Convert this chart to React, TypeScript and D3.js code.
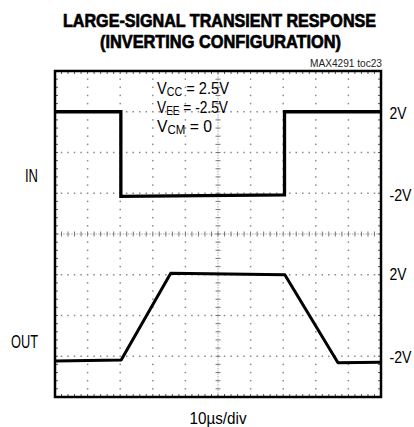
import React from "react";
import * as d3 from "d3";

const TITLE_LINES = ["LARGE-SIGNAL TRANSIENT RESPONSE", "(INVERTING CONFIGURATION)"];
const NOTE = "MAX4291 toc23";
const X_DIVS = 10;
const Y_DIVS = 8;
const TIME_MAX = 100; // µs (10µs/div)
const VOLTS_PER_DIV = 2;
const IN_CENTER_DIV = 6;
const OUT_CENTER_DIV = 2;

const inTime = [0, 20.2, 20.2, 70.4, 70.4, 100];
const inVolts = [2.0, 2.0, -2.15, -2.08, 2.0, 2.0];
const outTime = [0, 20.3, 35.5, 70.5, 86.8, 100];
const outVolts = [-2.23, -2.18, 2.07, 2.0, -2.32, -2.3];

const levelTicks = [2, -2];
const levelLabels = ["2V", "-2V"];
const channelNames = ["IN", "OUT"];
const conditions = [
  { main: "V", sub: "CC", rest: " = 2.5V", width: 72 },
  { main: "V", sub: "EE", rest: " = -2.5V", width: 71 },
  { main: "V", sub: "CM", rest: " = 0", width: 55 },
];
const X_LABEL = "10µs/div";

const FONT = "'Liberation Sans Narrow', 'Arial Narrow', 'Liberation Sans', Arial, sans-serif";
const TITLE_SX = 0.78;

export default function App() {
  const W = 414, H = 427;
  const left = 55, right = 381, top = 71, bottom = 397;
  const x = d3.scaleLinear().domain([0, TIME_MAX]).range([left, right]);
  const xd = d3.scaleLinear().domain([0, X_DIVS]).range([left, right]);
  const yd = d3.scaleLinear().domain([0, Y_DIVS]).range([bottom, top]);
  const yIn = (v: number) => yd(IN_CENTER_DIV + v / VOLTS_PER_DIV);
  const yOut = (v: number) => yd(OUT_CENTER_DIV + v / VOLTS_PER_DIV);

  const inData = inTime.map((t, i) => [t, inVolts[i]] as [number, number]);
  const outData = outTime.map((t, i) => [t, outVolts[i]] as [number, number]);
  const lineIn = d3.line<[number, number]>().x(d => x(d[0])).y(d => yIn(d[1]));
  const lineOut = d3.line<[number, number]>().x(d => x(d[0])).y(d => yOut(d[1]));

  const dots: JSX.Element[] = [];
  const subX = d3.range(0, X_DIVS * 5 + 1).map(i => i / 5);
  const subY = d3.range(0, Y_DIVS * 5 + 1).map(i => i / 5);
  for (let gy = 1; gy < Y_DIVS; gy++) {
    if (gy === 4) continue;
    subX.forEach((sx, i) => {
      if (i === 0 || i === subX.length - 1) return;
      dots.push(<rect key={`h${gy}-${i}`} x={xd(sx) - 0.75} y={yd(gy) - 0.75} width={1.5} height={1.5} fill="#8a8a8a" />);
    });
  }
  for (let gx = 1; gx < X_DIVS; gx++) {
    if (gx === 5) continue;
    subY.forEach((sy, i) => {
      if (i === 0 || i === subY.length - 1) return;
      if (i % 5 === 0) return;
      dots.push(<rect key={`v${gx}-${i}`} x={xd(gx) - 0.75} y={yd(sy) - 0.75} width={1.5} height={1.5} fill="#8a8a8a" />);
    });
  }

  const ticks: JSX.Element[] = [];
  subX.forEach((sx, i) => {
    if (i === 0 || i === subX.length - 1) return;
    ticks.push(<line key={`cx${i}`} x1={xd(sx)} x2={xd(sx)} y1={yd(4) - 2.5} y2={yd(4) + 2.5} stroke="#777" strokeWidth={1} />);
    ticks.push(<line key={`bt${i}`} x1={xd(sx)} x2={xd(sx)} y1={top} y2={top + 3} stroke="#555" strokeWidth={1} />);
    ticks.push(<line key={`bb${i}`} x1={xd(sx)} x2={xd(sx)} y1={bottom} y2={bottom - 3} stroke="#555" strokeWidth={1} />);
  });
  subY.forEach((sy, i) => {
    if (i === 0 || i === subY.length - 1) return;
    ticks.push(<line key={`cy${i}`} x1={xd(5) - 2.5} x2={xd(5) + 2.5} y1={yd(sy)} y2={yd(sy)} stroke="#777" strokeWidth={1} />);
    ticks.push(<line key={`bl${i}`} x1={left} x2={left + 3} y1={yd(sy)} y2={yd(sy)} stroke="#555" strokeWidth={1} />);
    ticks.push(<line key={`br${i}`} x1={right} x2={right - 3} y1={yd(sy)} y2={yd(sy)} stroke="#555" strokeWidth={1} />);
  });

  return (
    <svg width={W} height={H} style={{ position: "absolute", left: 0, top: 0, background: "#fff" }} fontFamily={FONT}>
      <rect x={0} y={0} width={W} height={H} fill="#fff" />
      <g transform={`translate(219.5,27) scale(${TITLE_SX},1)`}>
        <text x={0} y={0} textAnchor="middle" fontSize={19} fontWeight={900} stroke="#000" strokeWidth={0.7} textLength={313 / TITLE_SX} lengthAdjust="spacingAndGlyphs">{TITLE_LINES[0]}</text>
      </g>
      <g transform={`translate(220.5,47.5) scale(${TITLE_SX},1)`}>
        <text x={0} y={0} textAnchor="middle" fontSize={19} fontWeight={900} stroke="#000" strokeWidth={0.7} textLength={241 / TITLE_SX} lengthAdjust="spacingAndGlyphs">{TITLE_LINES[1]}</text>
      </g>
      <text x={382} y={67} textAnchor="end" fontSize={10} fill="#222" textLength={72} lengthAdjust="spacingAndGlyphs">{NOTE}</text>

      {dots}
      <line x1={left} x2={right} y1={yd(4)} y2={yd(4)} stroke="#aaa" strokeWidth={1} strokeDasharray="1.5,1.2" />
      <line x1={xd(5)} x2={xd(5)} y1={top} y2={bottom} stroke="#aaa" strokeWidth={1} strokeDasharray="1.5,1.2" />
      {ticks}

      {conditions.map((c, i) => (
        <text key={i} x={157} y={94 + i * 19} fontSize={16.5} textLength={c.width} lengthAdjust="spacingAndGlyphs">
          {c.main}
          <tspan dy={2} fontSize={12}>{c.sub}</tspan>
          <tspan dy={-2}>{c.rest}</tspan>
        </text>
      ))}

      <path d={lineIn(inData) ?? ""} fill="none" stroke="#000" strokeWidth={3.3} strokeLinejoin="miter" />
      <path d={lineOut(outData) ?? ""} fill="none" stroke="#000" strokeWidth={3} strokeLinejoin="round" />

      <rect x={left} y={top} width={right - left} height={bottom - top} fill="none" stroke="#000" strokeWidth={2.5} />

      {levelTicks.map((v, i) => (
        <text key={`li${i}`} x={389.5} y={yIn(v) + 7.5} fontSize={16.5} textLength={v < 0 ? 22 : 17} lengthAdjust="spacingAndGlyphs">{levelLabels[i]}</text>
      ))}
      {levelTicks.map((v, i) => (
        <text key={`lo${i}`} x={389.5} y={yOut(v) + (v < 0 ? 6.5 : 5)} fontSize={16.5} textLength={v < 0 ? 22 : 17} lengthAdjust="spacingAndGlyphs">{levelLabels[i]}</text>
      ))}

      <text x={38} y={182} textAnchor="end" fontSize={19} textLength={13} lengthAdjust="spacingAndGlyphs">{channelNames[0]}</text>
      <text x={38} y={348} textAnchor="end" fontSize={19} textLength={27} lengthAdjust="spacingAndGlyphs">{channelNames[1]}</text>

      <text x={218} y={424} textAnchor="middle" fontSize={16} textLength={57} lengthAdjust="spacingAndGlyphs">{X_LABEL}</text>
    </svg>
  );
}
